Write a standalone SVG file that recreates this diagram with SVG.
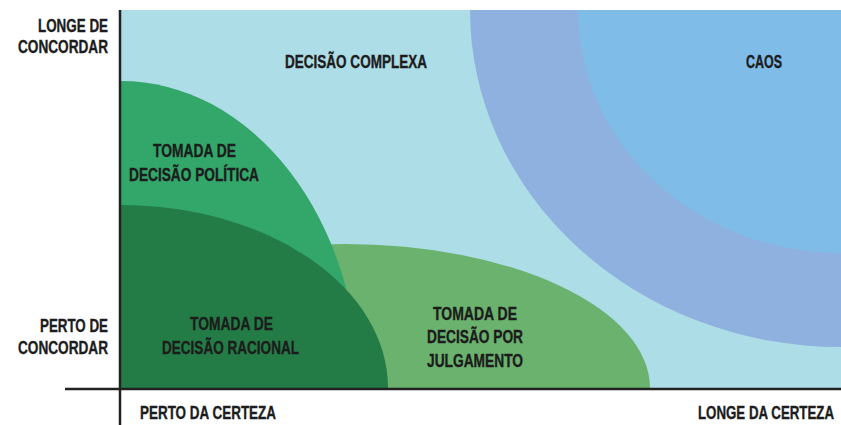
<svg xmlns="http://www.w3.org/2000/svg" width="841" height="425" viewBox="0 0 841 425">
<style>
text{font-family:"Liberation Sans",Arial,sans-serif;font-weight:bold;font-size:17.5px;fill:#1c1c1c;stroke:#1c1c1c;stroke-width:0.35}
.ax{stroke:#222;stroke-width:2.5;fill:none}
</style>
<defs>
<clipPath id="plot"><rect x="121" y="10" width="720" height="378"/></clipPath>
</defs>
<rect x="0" y="0" width="841" height="425" fill="#fff"/>
<g id="complex">
<rect x="121" y="10" width="720" height="378" fill="#addde6"/>
<text x="285" y="68" textLength="142" lengthAdjust="spacingAndGlyphs">DECISÃO COMPLEXA</text>
</g>
<g id="chaos" clip-path="url(#plot)">
<ellipse cx="841" cy="10" rx="371" ry="337" fill="#8fb1df"/>
<ellipse cx="841" cy="10" rx="263" ry="243" fill="#80bce8"/>
</g>
<text x="746" y="68" textLength="36" lengthAdjust="spacingAndGlyphs">CAOS</text>
<g id="judgment">
<ellipse cx="345" cy="388" rx="305" ry="144" fill="#6ab26e" clip-path="url(#plot)"/>
<text x="433" y="320" textLength="84" lengthAdjust="spacingAndGlyphs">TOMADA DE</text>
<text x="427" y="343" textLength="96" lengthAdjust="spacingAndGlyphs">DECISÃO POR</text>
<text x="427" y="367" textLength="96" lengthAdjust="spacingAndGlyphs">JULGAMENTO</text>
</g>
<g id="political">
<ellipse cx="121" cy="388" rx="238" ry="307" fill="#33a76a" clip-path="url(#plot)"/>
<text x="153" y="157" textLength="83" lengthAdjust="spacingAndGlyphs">TOMADA DE</text>
<text x="129" y="181" textLength="130" lengthAdjust="spacingAndGlyphs">DECISÃO POLÍTICA</text>
</g>
<g id="rational">
<ellipse cx="121" cy="388" rx="267" ry="183" fill="#237c46" clip-path="url(#plot)"/>
<text x="190" y="330" textLength="83" lengthAdjust="spacingAndGlyphs">TOMADA DE</text>
<text x="162" y="354" textLength="137" lengthAdjust="spacingAndGlyphs">DECISÃO RACIONAL</text>
</g>
<g id="connectors">
<line class="ax" x1="120" y1="10" x2="120" y2="425"/>
<line class="ax" x1="65" y1="389" x2="841" y2="389"/>
</g>
<g id="axis-labels">
<text x="38" y="32" textLength="70" lengthAdjust="spacingAndGlyphs">LONGE DE</text>
<text x="18" y="53" textLength="90" lengthAdjust="spacingAndGlyphs">CONCORDAR</text>
<text x="40" y="332" textLength="68" lengthAdjust="spacingAndGlyphs">PERTO DE</text>
<text x="18" y="354" textLength="90" lengthAdjust="spacingAndGlyphs">CONCORDAR</text>
<text x="140" y="419" textLength="136" lengthAdjust="spacingAndGlyphs">PERTO DA CERTEZA</text>
<text x="834" y="419" text-anchor="end" textLength="136" lengthAdjust="spacingAndGlyphs">LONGE DA CERTEZA</text>
</g>
</svg>
